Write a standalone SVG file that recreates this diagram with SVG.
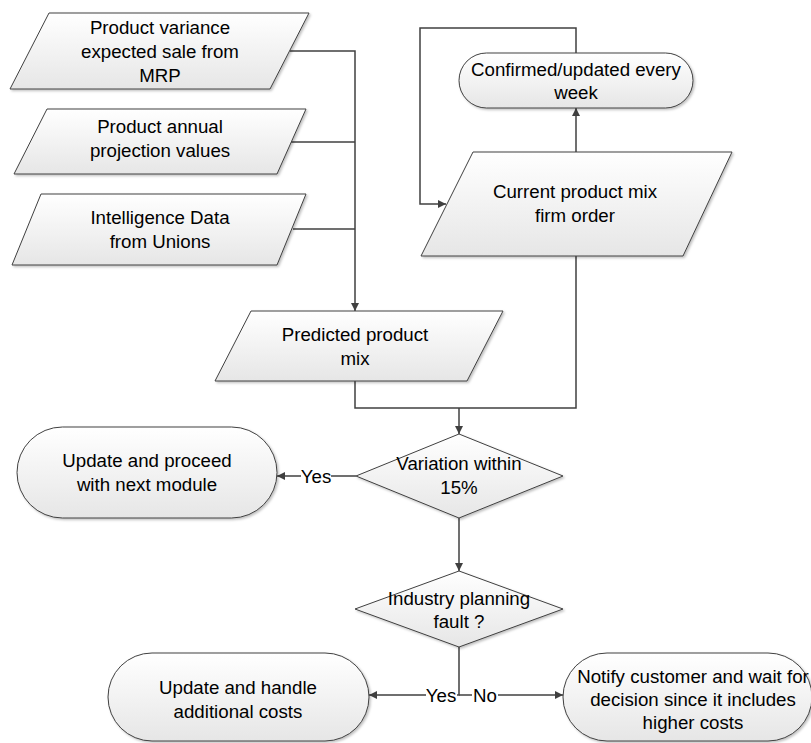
<svg xmlns="http://www.w3.org/2000/svg" width="811" height="743" viewBox="0 0 811 743">
  <defs>
    <linearGradient id="fillGrad" x1="0" y1="0" x2="0" y2="1">
      <stop offset="0" stop-color="#ffffff"/>
      <stop offset="1" stop-color="#e6e6e6"/>
    </linearGradient>
    <filter id="shadow" x="-5%" y="-5%" width="115%" height="120%">
      <feDropShadow dx="1.5" dy="1.5" stdDeviation="1" flood-color="#000" flood-opacity="0.25"/>
    </filter>
    <marker id="arrow" viewBox="0 0 10 10" refX="10" refY="5" markerWidth="8" markerHeight="8" markerUnits="userSpaceOnUse" orient="auto">
      <path d="M0,0 L10,5 L0,10 z" fill="#404040"/>
    </marker>
  </defs>
  <style>
    .shape { fill: url(#fillGrad); stroke: #404040; stroke-width: 1; filter: url(#shadow); }
    .label { font-family: "Liberation Sans", Arial, sans-serif; font-size: 18.7px; fill: #000; text-anchor: middle; }
    .edge { fill: none; stroke: #404040; stroke-width: 1.5; }
    .tag { font-family: "Liberation Sans", Arial, sans-serif; font-size: 18.7px; fill: #000; text-anchor: middle; }
  </style>
  <rect width="811" height="743" fill="#ffffff"/>

  <!-- connectors -->
  <g id="connectors">
    <path class="edge" d="M290,51 H355 V311" marker-end="url(#arrow)"/>
    <path class="edge" d="M291,142 H355"/>
    <path class="edge" d="M293,229 H355"/>
    <path class="edge" d="M355,381 V408 H576 V256"/>
    <path class="edge" d="M459,408 V434" marker-end="url(#arrow)"/>
    <path class="edge" d="M576,152 V108" marker-end="url(#arrow)"/>
    <path class="edge" d="M576,53 V28 H420 V204 H446" marker-end="url(#arrow)"/>
    <path class="edge" d="M356,476 H277" marker-end="url(#arrow)"/>
    <path class="edge" d="M459,518 V571" marker-end="url(#arrow)"/>
    <path class="edge" d="M459,647 V695 H369" marker-end="url(#arrow)"/>
    <path class="edge" d="M459,695 H563" marker-end="url(#arrow)"/>
    <rect x="301" y="466" width="30" height="20" fill="#ffffff"/>
    <text class="tag" x="316" y="483">Yes</text>
    <rect x="426" y="685" width="31" height="20" fill="#ffffff"/>
    <text class="tag" x="441" y="702">Yes</text>
    <rect x="472" y="685" width="26" height="20" fill="#ffffff"/>
    <text class="tag" x="485" y="702">No</text>
  </g>

  <g id="input-mrp">
    <polygon class="shape" points="49,13 309,13 270,89 10,89"/>
    <text class="label" x="160" y="34">Product variance</text>
    <text class="label" x="160" y="58">expected sale from</text>
    <text class="label" x="160" y="82">MRP</text>
  </g>

  <g id="input-annual">
    <polygon class="shape" points="47,109 306,109 277,174 14,174"/>
    <text class="label" x="160" y="133">Product annual</text>
    <text class="label" x="160" y="157">projection values</text>
  </g>

  <g id="input-unions">
    <polygon class="shape" points="41,194 306,194 277,265 12,265"/>
    <text class="label" x="160" y="224">Intelligence Data</text>
    <text class="label" x="160" y="248">from Unions</text>
  </g>

  <g id="predicted-mix">
    <polygon class="shape" points="251,311 503,311 467,381 215,381"/>
    <text class="label" x="355" y="341">Predicted product</text>
    <text class="label" x="355" y="365">mix</text>
  </g>

  <g id="confirmed-weekly">
    <rect class="shape" x="459" y="53" width="234" height="55" rx="27.5" ry="27.5"/>
    <text class="label" x="576" y="76">Confirmed/updated every</text>
    <text class="label" x="576" y="99">week</text>
  </g>

  <g id="current-mix">
    <polygon class="shape" points="473,152 732,152 683,256 421,256"/>
    <text class="label" x="575" y="198">Current product mix</text>
    <text class="label" x="575" y="222">firm order</text>
  </g>

  <g id="variation-check">
    <polygon class="shape" points="459,434 563,476 459,518 356,476"/>
    <text class="label" x="459" y="470">Variation within</text>
    <text class="label" x="459" y="494">15%</text>
  </g>

  <g id="proceed-next">
    <rect class="shape" x="17" y="427" width="260" height="91" rx="45.5" ry="45.5"/>
    <text class="label" x="147" y="467">Update and proceed</text>
    <text class="label" x="147" y="491">with next module</text>
  </g>

  <g id="planning-fault">
    <polygon class="shape" points="459,571 563,609 459,647 355,609"/>
    <text class="label" x="459" y="605">Industry planning</text>
    <text class="label" x="459" y="628">fault ?</text>
  </g>

  <g id="handle-costs">
    <rect class="shape" x="108" y="653" width="261" height="88" rx="44" ry="44"/>
    <text class="label" x="238" y="694">Update and handle</text>
    <text class="label" x="238" y="718">additional costs</text>
  </g>

  <g id="notify-customer">
    <rect class="shape" x="563" y="653" width="249" height="88" rx="44" ry="44"/>
    <text class="label" x="693" y="683">Notify customer and wait for</text>
    <text class="label" x="693" y="706">decision since it includes</text>
    <text class="label" x="693" y="729">higher costs</text>
  </g>
</svg>
